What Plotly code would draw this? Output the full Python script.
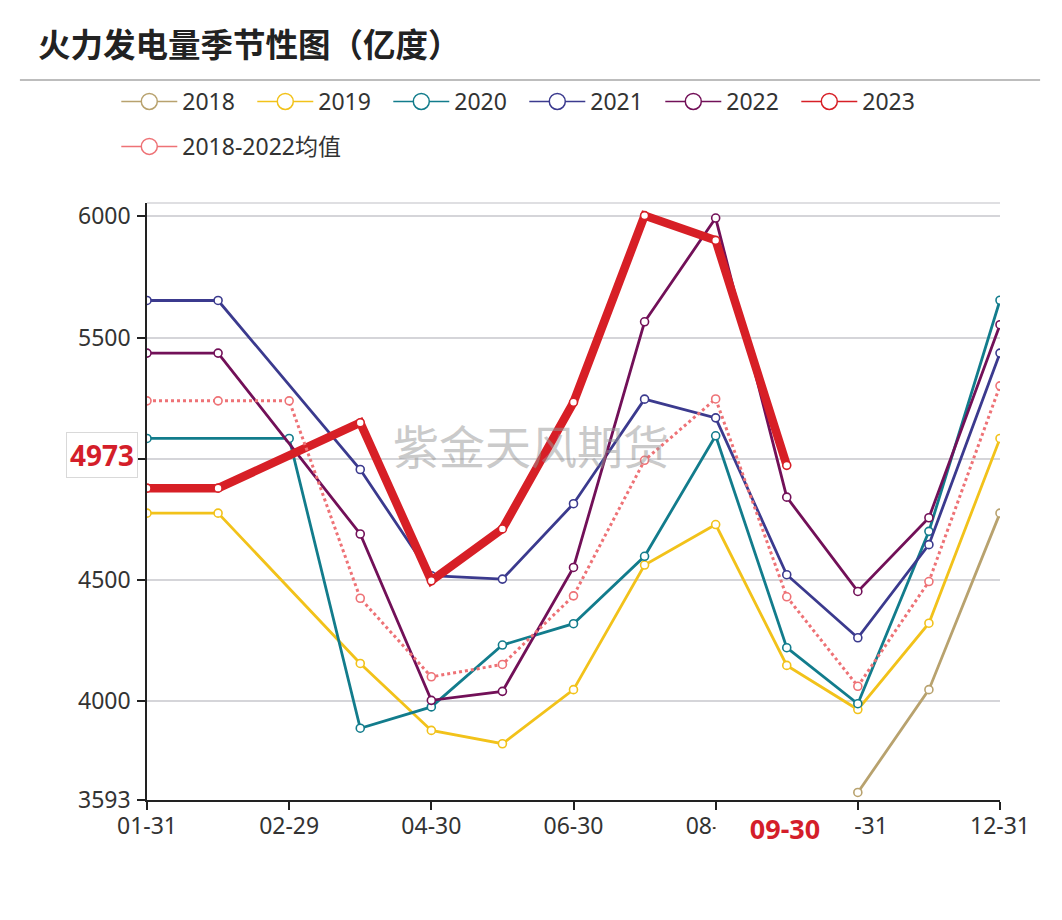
import plotly.graph_objects as go

# ---------------- data ----------------
dates = ["01-31", "02-28", "02-29", "03-31", "04-30", "05-31", "06-30",
         "07-31", "08-31", "09-30", "10-31", "11-30", "12-31"]
tick_dates = ["01-31", "02-29", "04-30", "06-30", "08-31", "10-31", "12-31"]

y2018 = [None, None, None, None, None, None, None, None, None, None, 3624, 4048, 4776]
y2019 = [4776, 4776, None, 4156, 3880, 3825, 4048, 4562, 4729, 4148, 3966, 4322, 5084]
y2020 = [5084, None, 5084, 3889, 3977, 4232, 4320, 4598, 5095, 4221, 3990, 4701, 5654]
y2021 = [5653, 5653, None, 4956, 4518, 4504, 4815, 5246, 5169, 4522, 4262, 4646, 5436]
y2022 = [5436, 5436, None, 4690, 4004, 4041, 4552, 5565, 5993, 4842, 4453, 4757, 5553]
y2023 = [4879, 4879, None, 5149, 4497, 4711, 5233, 6003, 5901, 4973, None, None, None]
yavg = [5239, 5239, 5239, 4425, 4101, 4152, 4435, 4994, 5247, 4431, 4062, 4494, 5301]

series_names = ["2018", "2019", "2020", "2021", "2022", "2023", "2018-2022均值"]
series_values = [y2018, y2019, y2020, y2021, y2022, y2023, yavg]
series_colors = ["#b8a26e", "#f2c21a", "#127c8c", "#3b3a8e", "#721058", "#d71f26", "#ee7276"]

y_ticks = [3593, 4000, 4500, 5000, 5500, 6000]
y_ticktext = ["3593", "4000", "4500", "", "5500", "6000"]  # 5000 hidden under the pointer label
y_range = [3593, 6055]
pointer_value = 4973
pointer_date = "09-30"

title_text = "火力发电量季节性图（亿度）"
watermark = "紫金天风期货"

# ---------------- figure ----------------
fig = go.Figure()

for name, vals, col in zip(series_names, series_values, series_colors):
    is23 = name == "2023"
    isavg = name.endswith("均值")
    fig.add_trace(go.Scatter(
        x=dates, y=vals, name=name, legendgroup=name, showlegend=False,
        mode="lines+markers", connectgaps=True,
        line=dict(color=col, width=8.5 if is23 else (3 if isavg else 2.8),
                  dash="dot" if isavg else "solid"),
        marker=dict(size=8, color="white", line=dict(color=col, width=1.6)),
        hoverinfo="skip",
    ))

# legend entries (thin line + hollow circle, like the reference)
for name, col in zip(series_names, series_colors):
    fig.add_trace(go.Scatter(
        x=[None], y=[None], name=name, legendgroup=name, showlegend=True,
        legend="legend2" if name.endswith("均值") else "legend",
        mode="lines+markers",
        line=dict(color=col, width=1.5),
        marker=dict(size=16, color="white", line=dict(color=col, width=1.5)),
    ))

legend_common = dict(orientation="h", xanchor="left", yanchor="top",
                     font=dict(size=23, color="#333"), itemwidth=56,
                     tracegroupgap=0, bgcolor="rgba(0,0,0,0)")

fig.update_layout(
    width=1062, height=920,
    margin=dict(l=147, r=62, t=203, b=120),
    paper_bgcolor="white", plot_bgcolor="white",
    font=dict(family="Noto Sans, Noto Sans CJK SC, sans-serif", size=23, color="#333"),
    hovermode=False,
    title=dict(text=title_text, x=38 / 1062, xanchor="left", xref="container",
               y=1 - 46 / 920, yanchor="middle", yref="container",
               font=dict(family="Noto Sans CJK SC, sans-serif", size=32.5, color="#222", weight="bold")),
    legend=dict(x=-0.036, y=1.206, entrywidth=65, **legend_common),
    legend2=dict(x=-0.036, y=1.1307, entrywidth=0, **legend_common),
    xaxis=dict(type="category", categoryorder="array", categoryarray=dates,
               range=[0, len(dates) - 1], tickmode="array", tickvals=tick_dates,
               ticktext=tick_dates, showgrid=False, showline=True, linecolor="#222",
               linewidth=1.5, ticks="outside", ticklen=8, tickcolor="#222", tickwidth=1.5,
               tickfont=dict(size=23, color="#333"), ticklabelstandoff=-3,
               zeroline=False, fixedrange=True),
    yaxis=dict(range=y_range, tickmode="array", tickvals=y_ticks,
               ticktext=y_ticktext, showgrid=True, gridcolor="#d5d5d9",
               gridwidth=1.5, showline=True, linecolor="#222", linewidth=1.5,
               ticks="outside", ticklen=8, tickcolor="#222", tickwidth=1.5,
               tickfont=dict(size=23, color="#333"), ticklabelstandoff=2,
               zeroline=False, fixedrange=True),
)

# line below the title and top border of grid
fig.add_shape(type="line", xref="paper", yref="paper", x0=-0.149, x1=1.047,
              y0=1.206, y1=1.206, line=dict(color="#bdbdbd", width=2))
fig.add_shape(type="line", xref="paper", yref="paper", x0=0, x1=1,
              y0=1, y1=1, line=dict(color="#d5d5d9", width=1.5))

# watermark
fig.add_annotation(text=watermark, xref="paper", yref="paper", x=0.45, y=0.596,
                   showarrow=False, font=dict(family="Noto Sans CJK SC", size=46,
                                              color="rgba(150,150,150,0.5)"))

# axis pointer labels
fig.add_annotation(text=f"<b>{pointer_value}</b>", xref="paper", yref="y",
                   x=0, y=pointer_value, xanchor="right", xshift=-9, yshift=10,
                   showarrow=False, bgcolor="white", bordercolor="#d9d9d9", borderwidth=1,
                   borderpad=3, font=dict(size=28, color="#d41e2a"))
fig.add_annotation(text=f"<b>{pointer_date}</b>", xref="x", yref="paper",
                   x=pointer_date, y=0, yanchor="top", yshift=-10, xshift=-2,
                   width=136, height=32, showarrow=False, bgcolor="white",
                   font=dict(size=27, color="#d41e2a"))

fig.write_html("out.html")
